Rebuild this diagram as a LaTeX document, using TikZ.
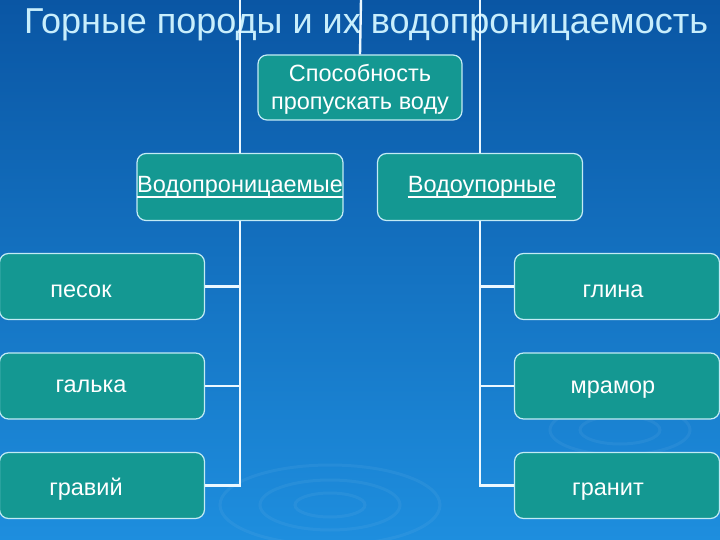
\documentclass[tikz,border=0pt]{standalone}
\usepackage{fontspec}
\setmainfont{Liberation Sans}
\definecolor{bgtop}{RGB}{10,86,164}
\definecolor{bgmid}{RGB}{14,104,184}
\definecolor{bgbot}{RGB}{30,142,222}
\definecolor{boxfill}{RGB}{20,152,146}
\definecolor{boxline}{RGB}{195,235,245}
\definecolor{titlecol}{RGB}{200,238,252}
\definecolor{linecol}{RGB}{235,248,255}
\begin{document}
\begin{tikzpicture}[x=1pt,y=-1pt,
  box/.style={draw=boxline, line width=1.2pt, fill=boxfill, rounded corners=9pt,
    minimum width=205pt, minimum height=66pt, inner sep=0pt},
  lbl/.style={text=white, font=\fontsize{23.5}{28}\selectfont, align=center, inner sep=0pt},
  blbl/.style={lbl, anchor=base},
  uline/.style={draw=white, line width=1.6pt},
  conn/.style={draw=linecol, line width=2.4pt}]
\useasboundingbox (0,0) rectangle (720,540);
\shade[top color=bgtop, middle color=bgmid, bottom color=bgbot] (0,0) rectangle (720,540);
% faint ripples
\begin{scope}[draw=white, opacity=0.05, line width=3pt]
\draw (330,505) ellipse (110pt and 40pt);
\draw (330,505) ellipse (70pt and 25pt);
\draw (330,505) ellipse (35pt and 12pt);
\draw (620,430) ellipse (70pt and 25pt);
\draw (620,430) ellipse (40pt and 14pt);
\end{scope}

\node[text=titlecol, font=\fontsize{36}{40}\selectfont, anchor=center, inner sep=0pt] (title) at (366,25) {Горные породы и их водопроницаемость};

% boxes
\node[box, minimum width=204pt, minimum height=65pt] (root) at (360,87.5) {};
\node[lbl] (rootT) at (360,89.5) {Способность\\пропускать воду};

\node[box, minimum width=206pt, minimum height=67pt] (perm) at (240,187) {};
\node[blbl] (permT) at (240,193) {Водопроницаемые};
\draw[uline] ([yshift=-4pt]permT.base west) -- ([yshift=-4pt]permT.base east);
\node[box, minimum width=205pt, minimum height=67pt] (imp) at (480,187) {};
\node[blbl] (impT) at (482,193) {Водоупорные};
\draw[uline] ([yshift=-4pt]impT.base west) -- ([yshift=-4pt]impT.base east);

\node[box] (pesok) at (102,286.5) {};
\node[blbl] (pesokT) at (81,297) {песок};
\node[box] (galka) at (102,386) {};
\node[blbl] (galkaT) at (91,392) {галька};
\node[box] (gravij) at (102,485.5) {};
\node[blbl] (gravijT) at (86,495) {гравий};

\node[box] (glina) at (617,286.5) {};
\node[blbl] (glinaT) at (613,297) {глина};
\node[box] (mramor) at (617,386) {};
\node[blbl] (mramorT) at (613,393) {мрамор};
\node[box] (granit) at (617,485.5) {};
\node[blbl] (granitT) at (608,495) {гранит};

% connectors
\coordinate (topL) at (240,0);
\coordinate (topM) at (361,0);
\coordinate (topR) at (480,0);
\coordinate (botL) at (240,485.5);
\coordinate (botR) at (480,485.5);
\draw[conn] (topM) -- (root.north);
\draw[conn] (topL) -- (perm.north);
\draw[conn] (topR) -- (imp.north);
\draw[conn] (perm.south) -- (botL) -- (gravij.east);
\draw[conn] (pesok.east) -- (pesok.east -| botL);
\draw[conn] (galka.east) -- (galka.east -| botL);
\draw[conn] (imp.south) -- (botR) -- (granit.west);
\draw[conn] (glina.west) -- (glina.west -| botR);
\draw[conn] (mramor.west) -- (mramor.west -| botR);
\end{tikzpicture}
\end{document}
